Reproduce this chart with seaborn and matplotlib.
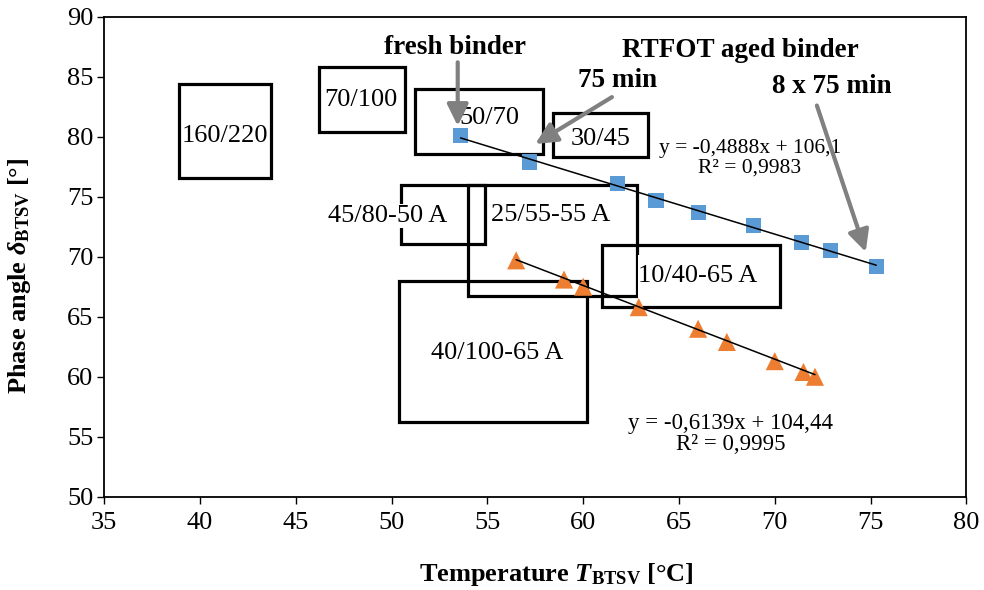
import numpy as np
import pandas as pd
import matplotlib
matplotlib.use("Agg")
import matplotlib.pyplot as plt
import seaborn as sns
from matplotlib.patches import Rectangle

# ---------------- data ----------------
fresh_temp = [53.6, 57.2, 61.8, 63.8, 66.0, 68.9, 71.4, 72.9, 75.3]
fresh_delta = [80.1, 77.9, 76.1, 74.7, 73.7, 72.6, 71.2, 70.5, 69.2]
fresh_slope, fresh_intercept = -0.4888, 106.1

aged_temp = [56.5, 59.0, 60.0, 62.9, 66.0, 67.5, 70.0, 71.5, 72.1]
aged_delta = [69.7, 68.1, 67.5, 65.8, 64.0, 62.9, 61.3, 60.4, 60.0]
aged_slope, aged_intercept = -0.6139, 104.44

# grade boxes: label, x0, x1, y0, y1, label x, label y
box_labels = ["160/220", "70/100", "50/70", "30/45", "45/80-50 A",
              "25/55-55 A", "10/40-65 A", "40/100-65 A"]
box_x0 = [38.9, 46.2, 51.2, 58.4, 50.5, 54.0, 61.0, 50.4]
box_x1 = [43.7, 50.7, 57.9, 63.4, 54.9, 62.8, 70.3, 60.2]
box_y0 = [76.6, 80.4, 78.6, 78.3, 71.1, 66.7, 65.8, 56.2]
box_y1 = [84.4, 85.8, 84.0, 82.0, 76.0, 76.0, 71.0, 68.0]
label_x = [41.3, 48.4, 55.1, 60.9, 49.8, 58.3, 66.0, 55.5]
label_y = [80.1, 83.1, 81.6, 79.8, 73.4, 73.5, 68.4, 62.0]

x_ticks = list(range(35, 81, 5))
y_ticks = list(range(50, 91, 5))

# ---------------- style ----------------
sns.set_theme(style="ticks")
plt.rcParams['font.family'] = ['Liberation Serif', 'DejaVu Serif']
plt.rcParams['mathtext.fontset'] = 'custom'
plt.rcParams['mathtext.rm'] = 'Liberation Serif'
plt.rcParams['mathtext.bf'] = 'Liberation Serif:bold'
plt.rcParams['mathtext.it'] = 'Liberation Serif:italic:bold'
plt.rcParams['axes.edgecolor'] = 'black'
plt.rcParams['xtick.color'] = 'black'
plt.rcParams['ytick.color'] = 'black'
plt.rcParams['xtick.labelcolor'] = 'black'
plt.rcParams['ytick.labelcolor'] = 'black'
plt.rcParams['text.color'] = 'black'
plt.rcParams['axes.labelcolor'] = 'black'

fig = plt.figure(figsize=(9.84, 5.9), dpi=100)
ax = fig.add_axes([0.106, 0.158, 0.876, 0.8137])

df_f = pd.DataFrame({"T": fresh_temp, "d": fresh_delta})
df_a = pd.DataFrame({"T": aged_temp, "d": aged_delta})

# boxes
for i, lab in enumerate(box_labels):
    ax.add_patch(Rectangle((box_x0[i], box_y0[i]), box_x1[i] - box_x0[i],
                           box_y1[i] - box_y0[i], fill=False, edgecolor='black',
                           linewidth=2.3, zorder=2))
# white background part of the 10/40-65 A shape
ax.add_patch(Rectangle((62.85, 66.0), 70.1 - 62.85, 4.15, facecolor='white',
                       edgecolor='none', zorder=2.5))

for i, lab in enumerate(box_labels):
    kw = {}
    if lab == "45/80-50 A":
        kw = dict(bbox=dict(facecolor='white', edgecolor='none', pad=1.0))
    ax.text(label_x[i], label_y[i], lab, ha='center', va='center',
            fontsize=19, color='black', zorder=3, **kw)

# trend lines
fx = np.array([min(fresh_temp), max(fresh_temp)])
ax_x = np.array([min(aged_temp), max(aged_temp)])
sns.lineplot(x=fx, y=fresh_slope * fx + fresh_intercept, ax=ax, color='black',
             linewidth=1.1, zorder=4)
sns.lineplot(x=ax_x, y=aged_slope * ax_x + aged_intercept, ax=ax, color='black',
             linewidth=1.1, zorder=4)

# points
sns.scatterplot(data=df_f, x="T", y="d", ax=ax, marker='s', s=120,
                color='#5B9BD5', edgecolor='none', zorder=3.5)
sns.scatterplot(data=df_a, x="T", y="d", ax=ax, marker='^', s=170,
                color='#ED7D31', edgecolor='none', zorder=3.5)

# equations
ax.text(68.7, 78.2, "y = -0,4888x + 106,1\nR² = 0,9983", ha='center',
        va='center', fontsize=15.5, multialignment='center', linespacing=1.0,
        zorder=5)
ax.text(67.7, 55.2, "y = -0,6139x + 104,44\nR² = 0,9995", ha='center',
        va='center', fontsize=16.5, multialignment='center', linespacing=1.0,
        zorder=5)

# annotations
arrow = dict(arrowstyle='-|>,head_length=0.65,head_width=0.32', color='#808080',
             lw=3, mutation_scale=20, shrinkA=0, shrinkB=0)
ax.text(53.3, 87.4, "fresh binder", ha='center', va='center', fontsize=19.5,
        fontweight='bold', zorder=6)
ax.annotate('', xy=(53.45, 80.9), xytext=(53.45, 86.2), arrowprops=arrow, zorder=6)
ax.text(68.2, 87.2, "RTFOT aged binder", ha='center', va='center', fontsize=19.5,
        fontweight='bold', zorder=6)
ax.text(61.8, 84.7, "75 min", ha='center', va='center', fontsize=19.5,
        fontweight='bold', zorder=6)
ax.annotate('', xy=(57.5, 79.4), xytext=(61.5, 83.3), arrowprops=arrow, zorder=6)
ax.text(73.0, 84.2, "8 x 75 min", ha='center', va='center', fontsize=19.5,
        fontweight='bold', zorder=6)
ax.annotate('', xy=(74.75, 70.4), xytext=(72.2, 82.6), arrowprops=arrow, zorder=6)

# axes
ax.set_xlim(35, 80)
ax.set_ylim(50, 90)
ax.set_xticks(x_ticks)
ax.set_yticks(y_ticks)
ax.tick_params(axis='both', labelsize=19, length=5, width=1, direction='out',
               colors='black')
ax.tick_params(axis='y', pad=3)
ax.tick_params(axis='x', pad=6)
for sp in ax.spines.values():
    sp.set_linewidth(1.3)
    sp.set_color('black')

ax.set_xlabel(r"Temperature $T_\mathbf{BTSV}$ [°C]", fontsize=19,
              fontweight='bold', color='black')
ax.set_ylabel(r"Phase angle $\delta_\mathbf{BTSV}$ [°]", fontsize=19,
              fontweight='bold', color='black')
ax.xaxis.set_label_coords(0.524, -0.134)
ax.yaxis.set_label_coords(-0.083, 0.46)

fig.savefig("out.png", dpi=100)
